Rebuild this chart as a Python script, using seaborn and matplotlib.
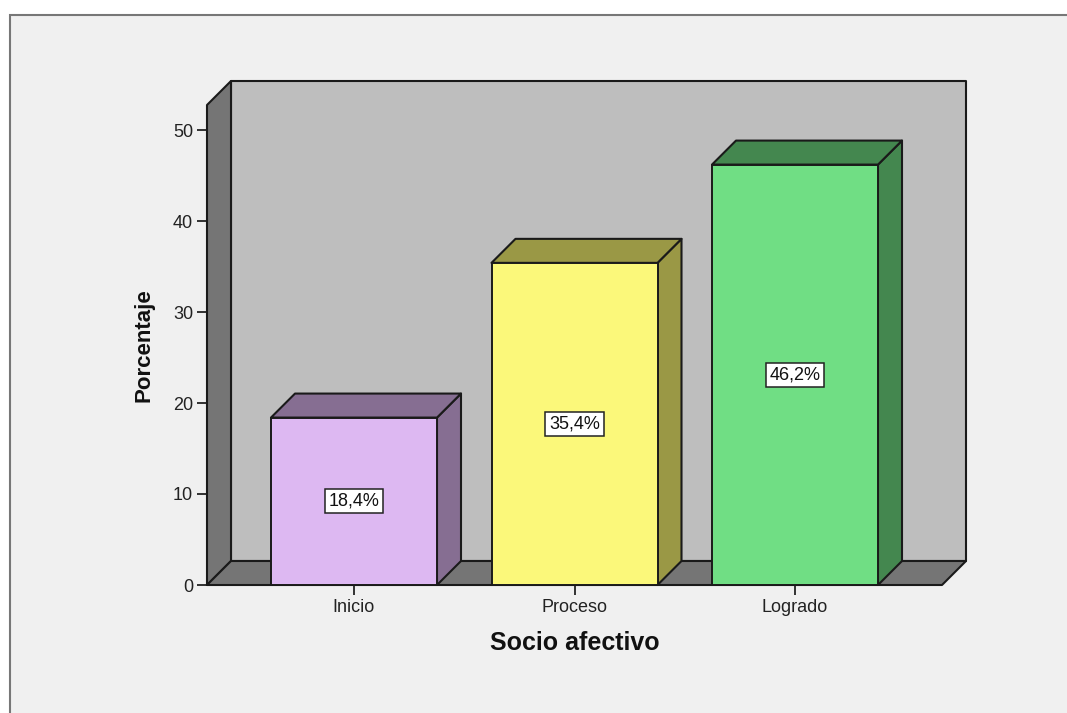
import matplotlib
matplotlib.use('Agg')
import matplotlib.pyplot as plt
from matplotlib.patches import Polygon, Rectangle
import pandas as pd
import seaborn as sns

# values
categories = ['Inicio', 'Proceso', 'Logrado']
percentages = [18.4, 35.4, 46.2]
value_labels = ['18,4%', '35,4%', '46,2%']
y_ticks = [0, 10, 20, 30, 40, 50]

front_colors = ['#DDB8F2', '#FBF87A', '#70DE84']
side_colors = ['#866E92', '#9A9845', '#44874F']
top_colors = ['#866E92', '#9A9845', '#44874F']

W, H = 1067, 713
sns.set_theme(style='white')
plt.rcParams['font.family'] = ['Liberation Sans', 'DejaVu Sans']

fig = plt.figure(figsize=(W / 100, H / 100), dpi=100, facecolor='white')

# grey panel with the border on the top and left
fig.add_artist(Rectangle((10 / W, -0.01), 1.01, (H - 15) / H + 0.01, transform=fig.transFigure,
                         facecolor='#F0F0F0', edgecolor='#777777', linewidth=1.5, zorder=-1))

# axes = front plane of the 3D box
ax = fig.add_axes([207 / W, (H - 585) / H, (942 - 207) / W, (585 - 105) / H])
ax.patch.set_alpha(0)

df = pd.DataFrame({'cat': categories, 'pct': percentages})
sns.barplot(data=df, x='cat', y='pct', hue='cat', palette=front_colors, legend=False,
            width=166 / 220.5, saturation=1, edgecolor='#1a1a1a', linewidth=1.4, ax=ax, zorder=6)

px_x = 220.5
px_y = 9.1
ax.set_xlim(-147 / px_x, 2 + 147 / px_x)
ax.set_ylim(0, 480 / px_y)
dx = 24 / px_x
dy = 24 / px_y

x0, x1 = ax.get_xlim()
y0, y1 = ax.get_ylim()
line = '#1a1a1a'


def face(pts, color, z):
    ax.add_patch(Polygon(pts, closed=True, facecolor=color, edgecolor=line, linewidth=1.5,
                         clip_on=False, zorder=z, joinstyle='round'))


bars = list(ax.patches[:3])

# walls and floor
face([(x0 + dx, y0 + dy), (x1 + dx, y0 + dy), (x1 + dx, y1 + dy), (x0 + dx, y1 + dy)], '#BEBEBE', 1)
face([(x0, y0), (x0 + dx, y0 + dy), (x0 + dx, y1 + dy), (x0, y1)], '#757575', 2)
face([(x0, y0), (x1, y0), (x1 + dx, y0 + dy), (x0 + dx, y0 + dy)], '#757575', 2)

# depth faces of the bars, built from the bars seaborn drew
for bar, side, top, lab in zip(bars, side_colors, top_colors, value_labels):
    left = bar.get_x()
    right = left + bar.get_width()
    h = bar.get_height()
    face([(right, 0), (right + dx, dy), (right + dx, h + dy), (right, h)], side, 5)
    face([(left, h), (right, h), (right + dx, h + dy), (left + dx, h + dy)], top, 5)
    ax.text((left + right) / 2, h / 2, lab, ha='center', va='center', fontsize=13, color='#111111',
            zorder=8, bbox=dict(boxstyle='square,pad=0.2', facecolor='white', edgecolor='#222222', linewidth=1.1))

for s in ax.spines.values():
    s.set_visible(False)

ax.set_yticks(y_ticks)
ax.set_xticks(range(len(categories)))
ax.set_xticklabels(categories)
ax.tick_params(axis='both', which='major', bottom=True, left=True, length=7, width=1.3, color='#222222',
               labelsize=13, labelcolor='#222222', pad=3)
ax.set_xlabel('Socio afectivo', fontsize=18, fontweight='bold', color='#111111', labelpad=11)
ax.set_ylabel('Porcentaje', fontsize=16, fontweight='bold', color='#111111', labelpad=0)
ax.yaxis.set_label_coords((155 - 207) / (942 - 207), (585 - 345) / 480)

fig.savefig('out.png', dpi=100, facecolor=fig.get_facecolor())
